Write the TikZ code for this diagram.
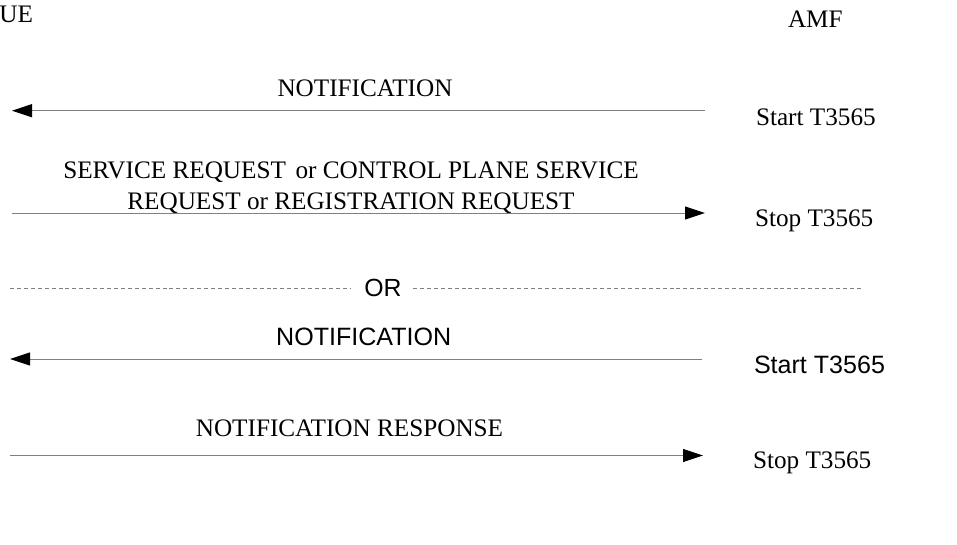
\documentclass[tikz,border=0pt]{standalone}
\usepackage{fontspec}
\setmainfont{Liberation Serif}
\newfontfamily\lsans{Liberation Sans}
\usetikzlibrary{arrows.meta}
\tikzset{
  lbl/.style={inner sep=0pt, outer sep=0pt, anchor=base, font=\fontsize{18.9pt}{22pt}\selectfont},
  lbll/.style={lbl, anchor=base west},
  slbl/.style={inner sep=0pt, outer sep=0pt, anchor=base, font=\lsans\fontsize{18.8pt}{22pt}\selectfont},
  slbll/.style={slbl, anchor=base west},
  msg/.style={draw=gray, line width=0.75pt, -{Triangle[length=15pt,width=9.75pt,color=black,fill=black]}},
  sep/.style={draw=gray, line width=0.75pt, dash pattern=on 3pt off 2.2pt}
}
\begin{document}
\begin{tikzpicture}[x=0.75pt,y=-0.75pt]
\useasboundingbox (0,0) rectangle (957,544);
% headers
\node[lbll] (ue) at (-0.5,22) {UE};
\node[lbll] (amf) at (788,27) {AMF};
% message 1
\node[lbl] (n1) at (365,96) {NOTIFICATION};
\coordinate (a1s) at (705,110.7);
\coordinate (a1e) at (12,110.7);
\draw[msg] (a1s) -- (a1e);
\node[lbll] (t1) at (756,125) {Start T3565};
% message 2
\node[lbl] (sr1) at (351,178.5) {SERVICE REQUEST\hspace{2.5pt} or CONTROL PLANE SERVICE};
\node[lbl] (sr2) at (351,209.5) {REQUEST or REGISTRATION REQUEST};
\coordinate (a2s) at (12,213);
\coordinate (a2e) at (705,213);
\draw[msg] (a2s) -- (a2e);
\node[lbll] (t2) at (755,226) {Stop T3565};
% separator
\node[slbl, font=\lsans\fontsize{18.6pt}{21pt}\selectfont] (or) at (383,296.5) {OR};
\coordinate (d1s) at (10,288);
\coordinate (d1e) at (350,288);
\coordinate (d2s) at (413,288);
\coordinate (d2e) at (862,288);
\draw[sep] (d1s) -- (d1e);
\draw[sep] (d2s) -- (d2e);
% message 3
\node[slbl] (n3) at (363.7,345) {NOTIFICATION};
\coordinate (a3s) at (702,359);
\coordinate (a3e) at (10,359);
\draw[msg] (a3s) -- (a3e);
\node[slbll] (t3) at (754,373) {Start T3565};
% message 4
\node[lbl] (n4) at (349.5,436.5) {NOTIFICATION RESPONSE};
\coordinate (a4s) at (10,455.5);
\coordinate (a4e) at (703,455.5);
\draw[msg] (a4s) -- (a4e);
\node[lbll] (t4) at (753,468) {Stop T3565};
\end{tikzpicture}
\end{document}
